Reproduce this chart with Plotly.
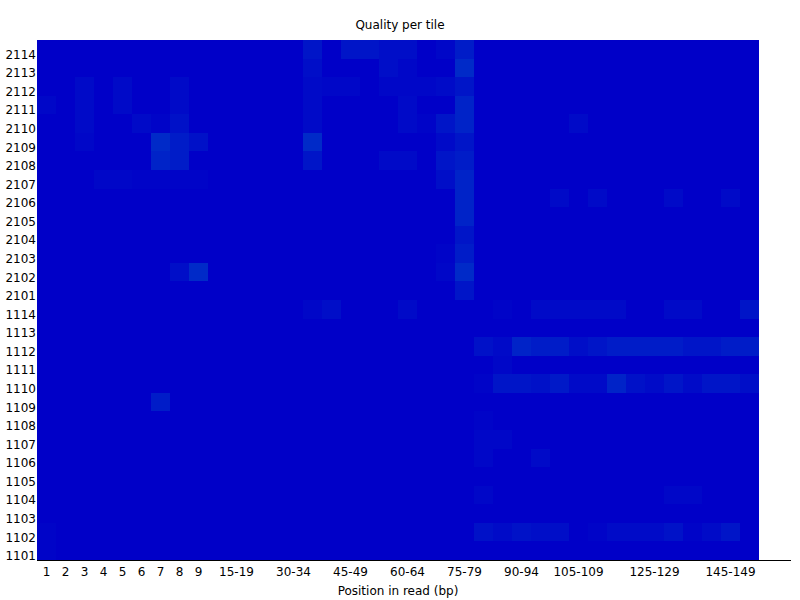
import plotly.graph_objects as go

positions = ["1", "2", "3", "4", "5", "6", "7", "8", "9",
             "10-14", "15-19", "20-24", "25-29", "30-34", "35-39", "40-44", "45-49",
             "50-54", "55-59", "60-64", "65-69", "70-74", "75-79", "80-84", "85-89",
             "90-94", "95-99", "100-104", "105-109", "110-114", "115-119", "120-124",
             "125-129", "130-134", "135-139", "140-144", "145-149", "150-151"]

shown_positions = ["1", "2", "3", "4", "5", "6", "7", "8", "9", "15-19", "30-34",
                   "45-49", "60-64", "75-79", "90-94", "105-109", "125-129", "145-149"]

tiles = ["2114", "2113", "2112", "2111", "2110", "2109", "2108", "2107", "2106", "2105",
         "2104", "2103", "2102", "2101", "1114", "1113", "1112", "1111", "1110", "1109",
         "1108", "1107", "1106", "1105", "1104", "1103", "1102", "1101"]

# deviation from mean quality, one row per tile (top to bottom), one value per position bin
t2114 = [0,0,0,0,0,0,0,0,0, 0,0,0,0,0, 1.5,0,1.5,1.5,1,1,0,0.5,2, 0,0,0,0,0,0,0,0,0,0,0,0,0,0,0]
t2113 = [0,0,0,0,0,0,0,0,0, 0,0,0,0,0, 1,0,0,0,1,0.5,0,0,3, 0,0,0,0,0,0,0,0,0,0,0,0,0,0,0]
t2112 = [0,0,0.7,0,0.7,0,0,0.7,0, 0,0,0,0,0, 0.7,0.5,0.5,0,0.5,0.5,0.5,0.8,1.5, 0,0,0,0,0,0,0,0,0,0,0,0,0,0,0]
t2111 = [0.5,0,0.7,0,0.7,0,0,0.7,0, 0,0,0,0,0, 0.7,0,0,0,0,0.7,0,0,2.5, 0,0,0,0,0,0,0,0,0,0,0,0,0,0,0]
t2110 = [0,0,0.7,0,0,0.7,0.3,1.2,0, 0,0,0,0,0, 0.7,0,0,0,0,0.7,0.3,1.5,2.5, 0,0,0,0,0,0.7,0,0,0,0,0,0,0,0,0]
t2109 = [0,0,0.5,0,0,0,3,2,1.2, 0,0,0,0,0, 3,0,0,0,0,0,0,0.7,1.5, 0,0,0,0,0,0,0,0,0,0,0,0,0,0,0]
t2108 = [0,0,0,0,0,0,2.5,2,0, 0,0,0,0,0, 1.5,0,0,0,0.7,0.7,0,1.5,2, 0,0,0,0,0,0,0,0,0,0,0,0,0,0,0]
t2107 = [0,0,0,0.5,0.5,0.3,0.3,0.3,0.3, 0,0,0,0,0, 0,0,0,0,0,0,0,1,2.5, 0,0,0,0,0,0,0,0,0,0,0,0,0,0,0]
t2106 = [0,0,0,0,0,0,0,0,0, 0,0,0,0,0, 0,0,0,0,0,0,0,0,2.5, 0,0,0,0,0.7,0,0.7,0,0,0,0.7,0,0,0.7,0]
t2105 = [0,0,0,0,0,0,0,0,0, 0,0,0,0,0, 0,0,0,0,0,0,0,0,2.5, 0,0,0,0,0,0,0,0,0,0,0,0,0,0,0]
t2104 = [0,0,0,0,0,0,0,0,0, 0,0,0,0,0, 0,0,0,0,0,0,0,0,1.5, 0,0,0,0,0,0,0,0,0,0,0,0,0,0,0]
t2103 = [0,0,0,0,0,0,0,0,0, 0,0,0,0,0, 0,0,0,0,0,0,0,0.3,2, 0,0,0,0,0,0,0,0,0,0,0,0,0,0,0]
t2102 = [0,0,0,0,0,0,0,1,3, 0,0,0,0,0, 0,0,0,0,0,0,0,0.5,3, 0,0,0,0,0,0,0,0,0,0,0,0,0,0,0]
t2101 = [0,0,0,0,0,0,0,0,0, 0,0,0,0,0, 0,0,0,0,0,0,0,0,1.5, 0,0,0,0,0,0,0,0,0,0,0,0,0,0,0]
t1114 = [0,0,0,0,0,0,0,0,0, 0,0,0,0,0, 0.5,1,0,0,0,0.7,0,0,0, 0,0.3,0,0.7,0.7,0.7,0.7,0.7,0,0,0.7,0.7,0,0,1.5]
t1113 = [0,0,0,0,0,0,0,0,0, 0,0,0,0,0, 0,0,0,0,0,0,0,0,0, 0,0,0,0,0,0,0,0,0,0,0,0,0,0,0]
t1112 = [0,0,0,0,0,0,0,0,0, 0,0,0,0,0, 0,0,0,0,0,0,0,0,0, 1.2,0.7,2.5,2,2,1,1.5,2,2,2,2,1.5,1.5,2,2]
t1111 = [0,0,0,0,0,0,0,0,0, 0,0,0,0,0, 0,0,0,0,0,0,0,0,0, 0,0.5,0,0,0,0,0,0,0,0,0,0,0,0,0]
t1110 = [0,0,0,0,0,0,0,0,0, 0,0,0,0,0, 0,0,0,0,0,0,0,0,0, 0.3,1.5,1.5,1.2,1.8,0.7,0.7,2.5,1.2,0.8,1.5,0.8,1.5,1.5,1]
t1109 = [0,0,0,0,0,0,2,0,0, 0,0,0,0,0, 0,0,0,0,0,0,0,0,0, 0,0,0,0,0,0,0,0,0,0,0,0,0,0,0]
t1108 = [0,0,0,0,0,0,0,0,0, 0,0,0,0,0, 0,0,0,0,0,0,0,0,0, 0.3,0,0,0,0,0,0,0,0,0,0,0,0,0,0]
t1107 = [0,0,0,0,0,0,0,0,0, 0,0,0,0,0, 0,0,0,0,0,0,0,0,0, 0.5,0.5,0,0,0,0,0,0,0,0,0,0,0,0,0]
t1106 = [0,0,0,0,0,0,0,0,0, 0,0,0,0,0, 0,0,0,0,0,0,0,0,0, 0.5,0,0,0.7,0,0,0,0,0,0,0,0,0,0,0]
t1105 = [0,0,0,0,0,0,0,0,0, 0,0,0,0,0, 0,0,0,0,0,0,0,0,0, 0,0,0,0,0,0,0,0,0,0,0,0,0,0,0]
t1104 = [0,0,0,0,0,0,0,0,0, 0,0,0,0,0, 0,0,0,0,0,0,0,0,0, 0.5,0,0,0,0,0,0,0,0,0,0.5,0.5,0,0,0]
t1103 = [0,0,0,0,0,0,0,0,0, 0,0,0,0,0, 0,0,0,0,0,0,0,0,0, 0,0,0,0,0,0,0,0,0,0,0,0,0,0,0]
t1102 = [0.3,0,0,0,0,0,0,0,0, 0,0,0,0,0, 0,0,0,0,0,0,0,0,0, 1.2,0.8,1.3,1,1,0,0.3,0.8,0.8,0.8,1.3,0.3,0.8,1.5,0]
t1101 = [0.3,0,0,0,0,0,0,0,0, 0,0,0,0,0, 0,0,0,0,0,0,0,0,0, 0,0,0,0,0,0,0,0,0,0,0,0,0,0,0]

z = [t2114, t2113, t2112, t2111, t2110, t2109, t2108, t2107, t2106, t2105, t2104,
     t2103, t2102, t2101, t1114, t1113, t1112, t1111, t1110, t1109, t1108, t1107,
     t1106, t1105, t1104, t1103, t1102, t1101]
for row in z:
    assert len(row) == len(positions)

row_idx = list(range(len(tiles)))
label_offset = 0.28

FONT = "DejaVu Sans"

fig = go.Figure(go.Heatmap(
    z=z,
    x=positions,
    y=row_idx,
    zmin=0, zmax=3,
    colorscale=[[0, "rgb(0,0,200)"], [1, "rgb(0,42,200)"]],
    showscale=False,
    xgap=0, ygap=0,
))

fig.update_layout(
    width=800, height=600,
    margin=dict(l=37, r=41, t=40, b=40, autoexpand=False),
    paper_bgcolor="white", plot_bgcolor="white",
    font=dict(family=FONT, size=12, color="black"),
    title=dict(text="Quality per tile", x=0.5, xref="container", xanchor="center",
               y=1 - 25 / 600, yref="container", yanchor="middle",
               font=dict(family=FONT, size=12, color="black")),
    xaxis=dict(type="category", categoryorder="array", categoryarray=positions,
               tickmode="array", tickvals=shown_positions, ticktext=shown_positions,
               showgrid=False, zeroline=False, showline=False, ticks="",
               ticklabelstandoff=3,
               automargin=False,
               range=[-0.5, len(positions) - 0.5],
               tickfont=dict(family=FONT, size=12),
               title=dict(text="Position in read (bp)", standoff=8,
                          font=dict(family=FONT, size=12))),
    yaxis=dict(range=[len(tiles) - 0.5, -0.5],
               tickmode="array", tickvals=[i + label_offset for i in row_idx], ticktext=tiles,
               showgrid=False, zeroline=False, showline=False, ticks="",
               automargin=False,
               tickfont=dict(family=FONT, size=12)),
    shapes=[dict(type="line", xref="paper", yref="paper", x0=0, x1=(791 - 37) / 722,
                 y0=-0.5 / 520, y1=-0.5 / 520, line=dict(color="black", width=1))],
)

fig.write_html("out.html",
               config={"displayModeBar": False},
               post_script="document.body.style.margin='0';document.body.style.overflow='hidden';")
